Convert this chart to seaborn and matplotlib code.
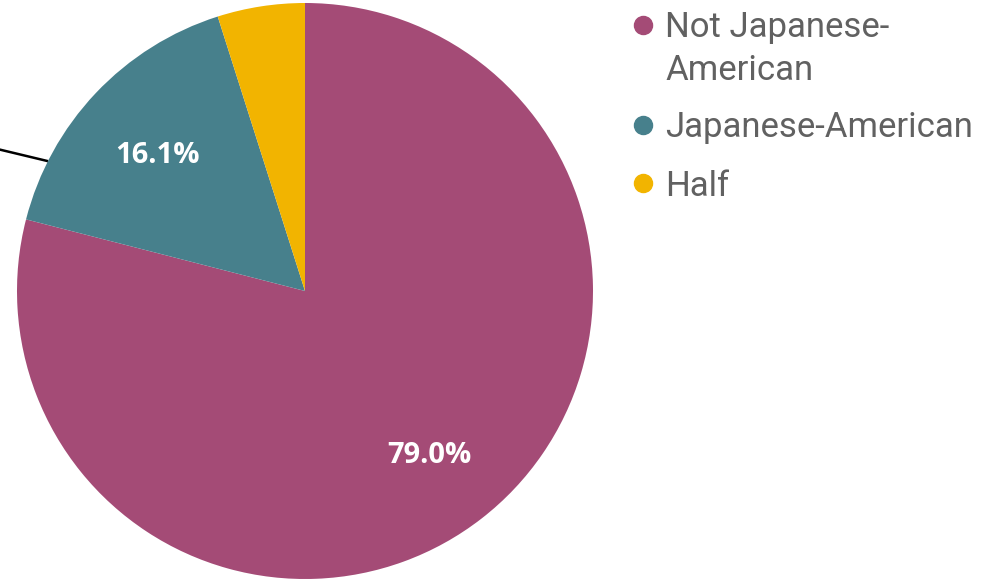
import numpy as np
import matplotlib
matplotlib.use("Agg")
import matplotlib.pyplot as plt
from matplotlib.lines import Line2D
from matplotlib.transforms import offset_copy
import seaborn as sns

# Survey shares
categories = ["Not Japanese-\nAmerican", "Japanese-American", "Half"]
shares = [79.0, 16.1, 4.9]
colors = ["#A44B76", "#47808C", "#F2B400"]

sns.set_theme(style="white")
plt.rcParams["font.family"] = ["Roboto", "DejaVu Sans"]

W, H, DPI = 986, 580, 100
fig = plt.figure(figsize=(W / DPI, H / DPI), dpi=DPI)

cx, cy, r = 305, 291, 288
ax = fig.add_axes([(cx - r) / W, (H - cy - r) / H, 2 * r / W, 2 * r / H])


def fmt(p):
    return f"{p:.1f}%" if p >= 5 else ""


wedges, texts, autotexts = ax.pie(
    shares,
    colors=colors,
    startangle=90,
    counterclock=False,
    autopct=fmt,
    pctdistance=0.705,
    radius=1.0,
    wedgeprops=dict(linewidth=0),
    textprops=dict(color="white", fontsize=21, fontweight="bold",
                   family=["Open Sans", "DejaVu Sans"]),
)
# nudge the percentage labels so the digits sit visually centred
for t in autotexts:
    t.set_transform(offset_copy(ax.transData, fig=fig, x=0, y=-4,
                                units="dots"))
ax.set_xlim(-1, 1)
ax.set_ylim(-1, 1)
ax.set_aspect("equal")
ax.axis("off")

# Leader line for the small slice label, running off to the left
ang = np.deg2rad(296.8)
x0, y0 = np.sin(ang), np.cos(ang)
x1 = -1.07
y1 = y0 + (x0 - x1) * (12 / 50)
ax.plot([x0, x1], [y0, y1], color="black", lw=1.8, clip_on=False,
        solid_capstyle="butt")

# Legend: dot + label per category, laid out in pixel units
mx, tx = 643, 665
row_y = 25
line_h, row_gap = 42, 58
for label, c in zip(categories, colors):
    fig.add_artist(Line2D([mx / W], [1 - row_y / H], marker="o",
                          markersize=13, markerfacecolor=c,
                          markeredgecolor=c, linestyle="",
                          transform=fig.transFigure))
    lines = label.split("\n")
    for i, part in enumerate(lines):
        fig.text(tx / W, 1 - (row_y + i * line_h + 12.5) / H, part,
                 fontsize=25, color="#616161", ha="left", va="baseline")
    row_y += row_gap + line_h * (len(lines) - 1)

fig.savefig("out.png", dpi=DPI)
